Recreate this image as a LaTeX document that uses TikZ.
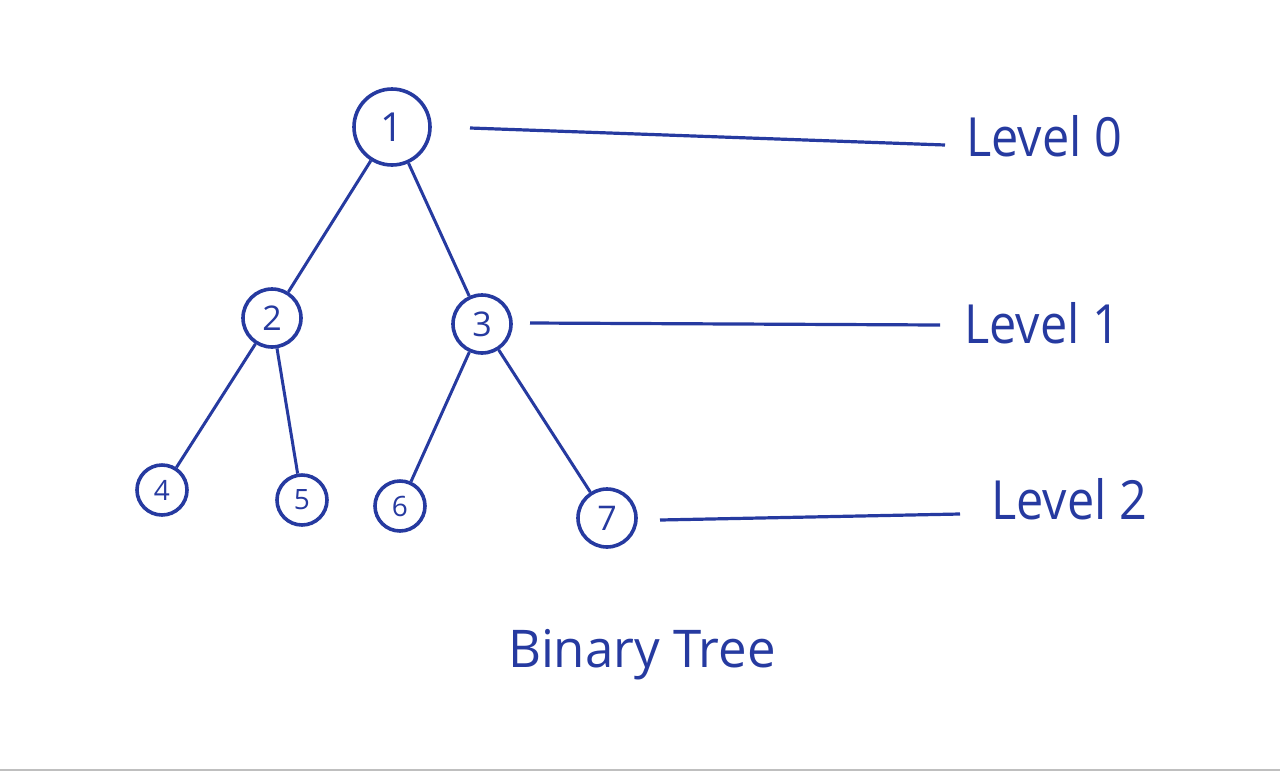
\documentclass[tikz,border=0pt]{standalone}
\usepackage{fontspec}
\setmainfont{Open Sans}
\definecolor{ink}{RGB}{38,58,160}
\begin{document}
\begin{tikzpicture}[x=0.5pt,y=-0.5pt,
  every node/.style={text=ink},
  tnode/.style={circle,draw=ink,line width=1.8pt,inner sep=0pt},
  big/.style={tnode,minimum size=38pt,font=\fontsize{20}{20}\selectfont},
  mid/.style={tnode,minimum size=29pt,font=\fontsize{17}{17}\selectfont},
  small/.style={tnode,minimum size=25pt,font=\fontsize{14}{14}\selectfont},
  edge/.style={draw=ink,line width=1.5pt},
  lvl/.style={font=\fontsize{27}{27}\selectfont,xscale=0.9,anchor=west},
  lvlline/.style={draw=ink,line width=1.6pt}]
\useasboundingbox (0,0) rectangle (1280,772);
\fill[white] (0,0) rectangle (1280,772);
\draw[gray!50,line width=1pt] (0,770) -- (1280,770);
\node[big] (n1) at (392,127) {1};
\node[mid] (n2) at (272,318) {2};
\node[mid] (n3) at (482,324) {3};
\node[small] (n4) at (162,490) {4};
\node[small] (n5) at (302,500) {5};
\node[small] (n6) at (400,506) {6};
\node[mid] (n7) at (607,518) {7};
\draw[edge] (n1) -- (n2);
\draw[edge] (n1) -- (n3);
\draw[edge] (n2) -- (n4);
\draw[edge] (n2) -- (n5);
\draw[edge] (n3) -- (n6);
\draw[edge] (n3) -- (n7);
\node[lvl] (l0) at (960,136) {Level 0};
\node[lvl] (l1) at (958,323) {Level 1};
\node[lvl] (l2) at (985,499) {Level 2};
\coordinate (a0) at (470,128);
\coordinate (b0) at (945,145);
\coordinate (a1) at (530,323);
\coordinate (b1) at (940,325);
\coordinate (a2) at (660,520);
\coordinate (b2) at (960,514);
\draw[lvlline] (a0) -- (b0);
\draw[lvlline] (a1) -- (b1);
\draw[lvlline] (a2) -- (b2);
\node[font=\fontsize{26}{26}\selectfont,xscale=0.98] (title) at (642,655) {Binary Tree};
\end{tikzpicture}
\end{document}
